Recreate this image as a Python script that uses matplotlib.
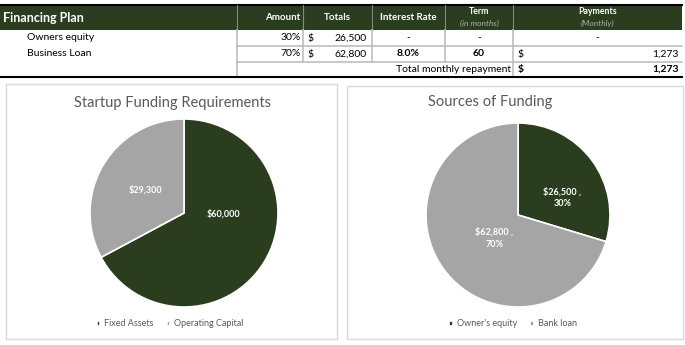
import matplotlib
matplotlib.use("Agg")
import matplotlib.pyplot as plt
from matplotlib.patches import Rectangle
import numpy as np

plt.rcParams['font.family'] = ['Lato', 'DejaVu Sans']

# ---------------- data ----------------
plan_rows = ["Owners equity", "Business Loan"]
plan_share = ["30%", "70%"]
plan_totals = ["26,500", "62,800"]
plan_rate = ["-", "8.0%"]
plan_term = ["-", "60"]
plan_payment = ["-", "1,273"]
total_repayment = "1,273"

req_labels = ["Fixed Assets", "Operating Capital"]
req_values = [60000, 29300]

src_labels = ["Owner's equity", "Bank loan"]
src_values = [26500, 62800]

DARK = "#2b3d1f"
GRAY = "#a5a5a5"
TXT = "#595959"

W, H = 685, 345
fig = plt.figure(figsize=(W / 100, H / 100), dpi=100)

# full-figure pixel axes for table
tab = fig.add_axes([0, 0, 1, 1])
tab.set_xlim(0, W)
tab.set_ylim(H, 0)
tab.axis("off")

# column edges
xL, xA, xT, xI, xM, xP, xR = 0, 237, 303, 372, 445, 513, 682
yTop, yH, y1, y2, y3 = 5, 30, 46, 62, 77

tab.add_patch(Rectangle((xL, yTop), xR - xL, yH - yTop, color=DARK, lw=0))
tab.plot([xL, xR], [yTop, yTop], color="black", lw=1.5)
for x in [xA, xT, xI, xM, xP]:
    tab.plot([x, x], [yTop, yH], color="#7f8c76", lw=0.8)

hdr = dict(color="white", fontweight="bold", fontsize=7, va="center")
tab.text(3, 17.5, "Financing Plan", color="white", fontweight="bold", fontsize=9, va="center")
tab.text(xT - 3, 17.5, "Amount", ha="right", **hdr)
tab.text((xT + xI) / 2, 17.5, "Totals", ha="center", **hdr)
tab.text((xI + xM) / 2, 17.5, "Interest Rate", ha="center", **hdr)
tab.text((xM + xP) / 2, 11, "Term", ha="center", color="white", fontweight="bold", fontsize=6.3, va="center")
tab.text((xM + xP) / 2, 23, "(in months)", ha="center", color="#a9b3a0", style="italic", fontsize=6, va="center")
tab.text((xP + xR) / 2, 11, "Payments", ha="center", color="white", fontweight="bold", fontsize=6.3, va="center")
tab.text((xP + xR) / 2, 23, "(Monthly)", ha="center", color="#a9b3a0", style="italic", fontsize=6, va="center")

# grid lines
GL = "#bfbfbf"
for y in [y1, y2]:
    tab.plot([xA, xR], [y, y], color=GL, lw=1.2)
for x in [xA, xT, xI, xM, xP]:
    tab.plot([x, x], [yH, y2], color=GL, lw=1.2)
for x in [xA, xP]:
    tab.plot([x, x], [y2, y3], color=GL, lw=1.2)
tab.plot([xL, xR], [y3, y3], color="black", lw=1.5)

cell = dict(fontsize=7.5, color="black", va="center")
rows_y = [(yH + y1) / 2, (y1 + y2) / 2]
for i, yy in enumerate(rows_y):
    bold = "bold" if i == 1 else "normal"
    tab.text(27, yy, plan_rows[i], **cell)
    tab.text(xT - 2, yy, plan_share[i], ha="right", **cell)
    tab.text(xT + 5, yy, "$", ha="left", **cell)
    tab.text(xI - 5, yy, plan_totals[i], ha="right", **cell)
    tab.text((xI + xM) / 2, yy, plan_rate[i], ha="center", fontweight=bold, **cell)
    tab.text((xM + xP) / 2, yy, plan_term[i], ha="center", fontweight=bold, **cell)
    if plan_payment[i] == "-":
        tab.text((xP + xR) / 2, yy, plan_payment[i], ha="center", **cell)
    else:
        tab.text(xP + 5, yy, "$", ha="left", **cell)
        tab.text(xR - 3, yy, plan_payment[i], ha="right", **cell)
yy = (y2 + y3) / 2
tab.text(xP - 2, yy, "Total monthly repayment", ha="right", **cell)
tab.text(xP + 5, yy, "$", ha="left", fontweight="bold", **cell)
tab.text(xR - 3, yy, total_repayment, ha="right", fontweight="bold", **cell)

# chart frames
tab.add_patch(Rectangle((6, 84), 331, 255, fill=False, ec="#d9d9d9", lw=1))
tab.add_patch(Rectangle((347, 86), 336, 253, fill=False, ec="#d9d9d9", lw=1))
tab.text(173, 103, "Startup Funding Requirements", ha="center", va="center", fontsize=10.5, color=TXT)
tab.text(490, 102, "Sources of Funding", ha="center", va="center", fontsize=10.5, color=TXT)


def pie_axes(cx, cy, r):
    return fig.add_axes([(cx - r) / W, (H - cy - r) / H, 2 * r / W, 2 * r / H])


def draw_pie(ax, values, fmt, lab_dist, lab_shift):
    total = sum(values)
    wedges, _ = ax.pie(values, colors=[DARK, GRAY], startangle=90, counterclock=False,
                       wedgeprops=dict(edgecolor="white", linewidth=1.2))
    ax.set_xlim(-1, 1)
    ax.set_ylim(-1, 1)
    for w, v, d, s in zip(wedges, values, lab_dist, lab_shift):
        ang = np.deg2rad((w.theta1 + w.theta2) / 2 + s)
        ax.text(d * np.cos(ang), d * np.sin(ang), fmt(v, total), ha="center", va="center",
                color="white", fontweight="bold", fontsize=6.5, linespacing=1.4)
    return wedges


axL = pie_axes(184, 213, 94)
wL = draw_pie(axL, req_values, lambda v, t: f"${v:,.0f}", [0.42, 0.48], [30, 0])
axR = pie_axes(518, 215, 92)
wR = draw_pie(axR, src_values,
              lambda v, t: f"${v:,.0f} ,\n{round(100 * v / t):.0f}%", [0.52, 0.36], [-15, 8])

for wedges, labels, cx in [(wL, req_labels, 170), (wR, src_labels, 513)]:
    fig.legend(wedges, labels, loc="center", bbox_to_anchor=(cx / W, 1 - 324 / H), ncol=2,
               frameon=False, fontsize=6.5, labelcolor=TXT, handlelength=0.4, handleheight=0.4,
               handletextpad=0.4, columnspacing=1.5)

fig.savefig("out.png", dpi=100, facecolor="white")
